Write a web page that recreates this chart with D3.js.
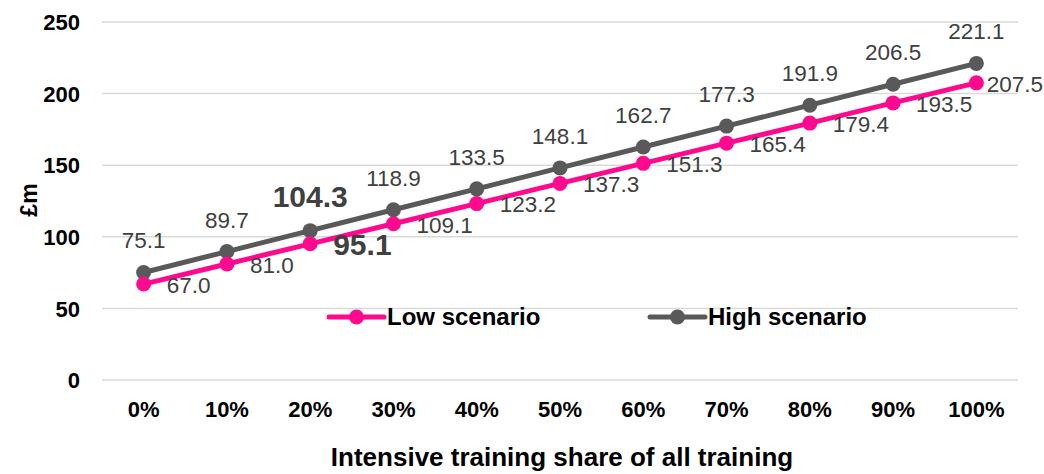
<!DOCTYPE html>
<html>
<head>
<meta charset="utf-8">
<script src="https://cdn.jsdelivr.net/npm/d3@7"></script>
<style>
  html, body { margin: 0; padding: 0; background: #fff; }
  svg { display: block; font-family: "Liberation Sans", Arial, sans-serif; }
</style>
</head>
<body>
<svg id="chart" width="1044" height="474"></svg>
<script>
const categories = ["0%", "10%", "20%", "30%", "40%", "50%", "60%", "70%", "80%", "90%", "100%"];
const lowValues  = [67.0, 81.0, 95.1, 109.1, 123.2, 137.3, 151.3, 165.4, 179.4, 193.5, 207.5];
const highValues = [75.1, 89.7, 104.3, 118.9, 133.5, 148.1, 162.7, 177.3, 191.9, 206.5, 221.1];
const yTicks = [0, 50, 100, 150, 200, 250];
const highlightIndex = 2;
const seriesNames = ["Low scenario", "High scenario"];

const W = 1044, H = 474;
const plot = { left: 102, right: 1018, top: 22, bottom: 380 };
const colors = { low: "#FF0A8F", high: "#595959" };

const svg = d3.select("#chart");

const x = d3.scaleBand().domain(categories).range([plot.left, plot.right]);
const y = d3.scaleLinear().domain([0, 250]).range([plot.bottom, plot.top]);
const cx = c => x(c) + x.bandwidth() / 2;

// gridlines
svg.append("g").selectAll("line").data(yTicks).join("line")
  .attr("x1", plot.left).attr("x2", plot.right)
  .attr("y1", d => y(d)).attr("y2", d => y(d))
  .attr("stroke", "#d9d9d9").attr("stroke-width", 1.5);

// y axis labels
const yAxis = d3.axisLeft(y).tickValues(yTicks).tickSize(0).tickPadding(0);
const gy = svg.append("g").attr("transform", `translate(80,0)`).call(yAxis);
gy.select(".domain").remove();
gy.selectAll("text").attr("font-size", 22).attr("font-weight", "bold").attr("fill", "#000")
  .attr("font-family", "'Liberation Sans', Arial, sans-serif").attr("dy", "0.35em");

// x axis labels
const xAxis = d3.axisBottom(x).tickSize(0).tickPadding(0);
const gx = svg.append("g").attr("transform", `translate(0,${plot.bottom})`).call(xAxis);
gx.select(".domain").remove();
gx.selectAll("text").attr("font-size", 22).attr("font-weight", "bold").attr("fill", "#000")
  .attr("font-family", "'Liberation Sans', Arial, sans-serif").attr("y", 37).attr("dy", 0);

// axis titles
svg.append("text").attr("x", (plot.left + plot.right) / 2 + 2).attr("y", 466)
  .attr("text-anchor", "middle").attr("font-size", 26).attr("font-weight", "bold")
  .text("Intensive training share of all training");
svg.append("text").attr("transform", `translate(37,200) rotate(-90)`)
  .attr("text-anchor", "middle").attr("font-size", 23).attr("font-weight", "bold")
  .text("£m");

// lines
const line = d3.line().x((d, i) => cx(categories[i])).y(d => y(d));
[[lowValues, colors.low], [highValues, colors.high]].forEach(([vals, col]) => {
  svg.append("path").datum(vals).attr("d", line).attr("fill", "none")
    .attr("stroke", col).attr("stroke-width", 5).attr("stroke-linejoin", "round");
});
[[highValues, colors.high], [lowValues, colors.low]].forEach(([vals, col]) => {
  svg.append("g").selectAll("circle").data(vals).join("circle")
    .attr("cx", (d, i) => cx(categories[i])).attr("cy", d => y(d))
    .attr("r", 7.5).attr("fill", col);
});

// labels high: above
svg.append("g").selectAll("text").data(highValues).join("text")
  .attr("x", (d, i) => cx(categories[i]))
  .attr("y", d => y(d) - 24)
  .attr("text-anchor", "middle")
  .attr("font-size", (d, i) => i === highlightIndex ? 30 : 22.5)
  .attr("font-weight", (d, i) => i === highlightIndex ? "bold" : "normal")
  .attr("fill", "#404040")
  .text(d => d.toFixed(1));

// labels low: right
svg.append("g").selectAll("text").data(lowValues).join("text")
  .attr("x", (d, i) => cx(categories[i]) + 23)
  .attr("y", d => y(d) + 1)
  .attr("dy", "0.35em")
  .attr("text-anchor", "start")
  .attr("font-size", (d, i) => i === highlightIndex ? 30 : 22.5)
  .attr("font-weight", (d, i) => i === highlightIndex ? "bold" : "normal")
  .attr("fill", "#404040")
  .text(d => d.toFixed(1))
  .each(function () {
    const w = this.getComputedTextLength();
    const xx = +this.getAttribute("x");
    if (xx + w > W - 1) this.setAttribute("x", W - 1 - w);
  });

// legend
const legend = [
  { name: seriesNames[0], color: colors.low, x: 329 },
  { name: seriesNames[1], color: colors.high, x: 650 }
];
const ly = 317;
const lg = svg.append("g").selectAll("g").data(legend).join("g")
  .attr("transform", d => `translate(${d.x},${ly})`);
lg.append("line").attr("x1", 0).attr("x2", 55).attr("y1", 0).attr("y2", 0)
  .attr("stroke", d => d.color).attr("stroke-width", 5).attr("stroke-linecap", "round");
lg.append("circle").attr("cx", 27.5).attr("cy", 0).attr("r", 7.5).attr("fill", d => d.color);
lg.append("text").attr("x", 58).attr("y", 0).attr("dy", "0.35em")
  .attr("font-size", 24).attr("font-weight", "bold").attr("fill", "#000")
  .text(d => d.name);
</script>
</body>
</html>
